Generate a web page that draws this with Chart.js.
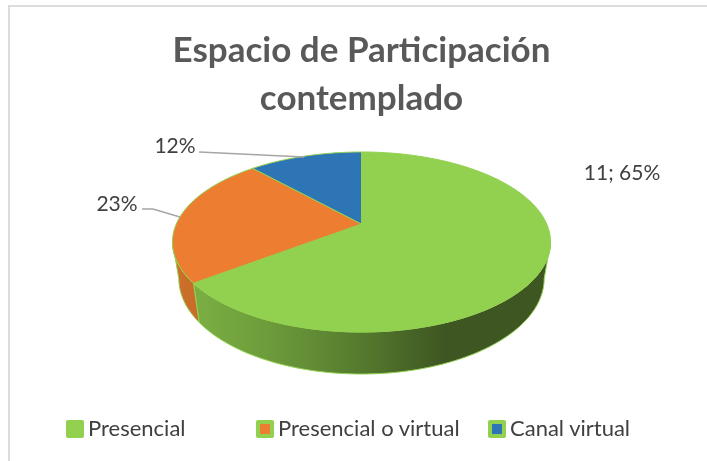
<!DOCTYPE html>
<html lang="en">
<head>
    <meta charset="UTF-8">
    <title>Espacio de Participación contemplado</title>
    <script src="https://cdn.jsdelivr.net/npm/chart.js"></script>
    <style>
        body { margin: 0; background: #fff; font-family: Lato, sans-serif; }
        #wrap { position: relative; width: 707px; height: 461px; overflow: hidden; }
        #frame { position: absolute; left: 8px; top: 5px; right: 0; bottom: 0; border-left: 2px solid #dcdcdc; border-top: 2px solid #dcdcdc; }
        canvas { position: absolute; left: 0; top: 0; }
        .item { position: absolute; top: 416px; font-size: 22px; line-height: 24px; color: #404040; white-space: nowrap; }
        .key { position: absolute; left: -22px; top: 4px; width: 18px; height: 18px; border-radius: 2px; background: #92d050; }
        .key i { position: absolute; left: 4px; top: 4px; width: 10px; height: 10px; }
    </style>
</head>
<body>
    <div id="wrap">
        <div id="frame"></div>
        <canvas id="pieChart" width="707" height="461"></canvas>
        <div id="legend"></div>
    </div>

    <script>
        const categories = ["Presencial", "Presencial o virtual", "Canal virtual"];
        const values = [11, 4, 2];
        const dataLabels = ["11; 65%", "23%", "12%"];
        const sliceColors = ["#92d050", "#ed7d31", "#2e75b6"];
        const titleLines = ["Espacio de Participación", "contemplado"];

        // where the labels and legend sit, px
        const labelSpots = [[622, 180], [117, 211], [175, 153]];
        const leaderLines = [null, [[142, 209], [153, 209], [180, 217]], [[199, 152], [304, 157]]];
        const legendLeft = [88, 278, 510];

        // perspective of the tilted disc, in pie radii
        const topDisc = { sx: 1.843, sy: 0.860, dy: 0 };
        const bottomDisc = { sx: 1.781, sy: 0.911, dy: 0.354 };
        const persp = 0.2;
        const edgeAngle = Math.acos(-persp); // where the rim turns out of sight

        function project(el, disc, a) {
            const w = 1 + persp * Math.cos(a);
            return [
                el.x + el.outerRadius * disc.sx * Math.sin(a) / w,
                el.y + el.outerRadius * (disc.dy - disc.sy * Math.cos(a) / w)
            ];
        }

        function traceRim(ctx, el, disc, from, to) {
            const steps = Math.max(2, Math.ceil(Math.abs(to - from) * 40));
            for (let i = 0; i <= steps; i++) {
                const p = project(el, disc, from + (to - from) * i / steps);
                ctx.lineTo(p[0], p[1]);
            }
        }

        const tiltedPie = {
            id: 'tiltedPie',
            beforeDatasetDraw(chart, args) {
                const ctx = chart.ctx;
                const arcs = args.meta.data;
                ctx.save();
                ctx.lineJoin = 'round';

                // side wall, front half only
                arcs.forEach((el, i) => {
                    const a0 = Math.max(el.startAngle + Math.PI / 2, edgeAngle);
                    const a1 = Math.min(el.endAngle + Math.PI / 2, 2 * Math.PI - edgeAngle);
                    if (a1 <= a0) return;
                    const left = project(el, topDisc, 2 * Math.PI - edgeAngle)[0];
                    const right = project(el, topDisc, edgeAngle)[0];
                    const g = ctx.createLinearGradient(left, 0, right, 0);
                    if (i === 0) {
                        g.addColorStop(0, '#7fb546');
                        g.addColorStop(0.25, '#6d9c3b');
                        g.addColorStop(0.5, '#557a2e');
                        g.addColorStop(0.72, '#3e5622');
                        g.addColorStop(1, '#3e5622');
                    } else {
                        g.addColorStop(0, '#cf6f2b');
                        g.addColorStop(0.1, '#c56a28');
                        g.addColorStop(1, '#c56a28');
                    }
                    ctx.beginPath();
                    traceRim(ctx, el, topDisc, a0, a1);
                    traceRim(ctx, el, bottomDisc, a1, a0);
                    ctx.closePath();
                    ctx.fillStyle = g;
                    ctx.fill();
                    ctx.strokeStyle = '#92d050';
                    ctx.lineWidth = 1;
                    ctx.stroke();
                });

                // top faces
                arcs.forEach((el, i) => {
                    const a0 = el.startAngle + Math.PI / 2;
                    const a1 = el.endAngle + Math.PI / 2;
                    ctx.beginPath();
                    ctx.moveTo(el.x, el.y);
                    traceRim(ctx, el, topDisc, a0, a1);
                    ctx.closePath();
                    ctx.fillStyle = sliceColors[i];
                    ctx.fill();
                    ctx.strokeStyle = '#92d050';
                    ctx.lineWidth = 1;
                    ctx.stroke();
                });
                ctx.restore();
                return false;
            },
            afterDatasetsDraw(chart) {
                const ctx = chart.ctx;
                ctx.save();
                ctx.strokeStyle = '#a6a6a6';
                ctx.lineWidth = 1.5;
                leaderLines.forEach(line => {
                    if (!line) return;
                    ctx.beginPath();
                    line.forEach(p => ctx.lineTo(p[0], p[1]));
                    ctx.stroke();
                });
                ctx.font = '21px Lato';
                ctx.fillStyle = '#404040';
                ctx.textAlign = 'center';
                dataLabels.forEach((text, i) => {
                    ctx.fillText(text, labelSpots[i][0], labelSpots[i][1]);
                });
                ctx.restore();
            }
        };

        new Chart(document.getElementById('pieChart'), {
            type: 'pie',
            data: {
                labels: categories,
                datasets: [{ data: values, backgroundColor: sliceColors, borderColor: '#92d050', borderWidth: 1 }]
            },
            options: {
                responsive: false,
                animation: false,
                layout: { padding: { left: 16, bottom: 136 } },
                plugins: {
                    legend: { display: false },
                    tooltip: { enabled: false },
                    title: {
                        display: true,
                        text: titleLines,
                        color: '#595959',
                        font: { family: 'Lato', size: 35, weight: 'bold', lineHeight: 48 / 35 },
                        padding: { top: 27, bottom: 0 }
                    }
                }
            },
            plugins: [tiltedPie]
        });

        // legend sits unevenly spaced in the original, so build it by hand
        const legend = document.getElementById('legend');
        categories.forEach((name, i) => {
            const item = document.createElement('div');
            item.className = 'item';
            item.style.left = legendLeft[i] + 'px';
            item.textContent = name;
            const key = document.createElement('span');
            key.className = 'key';
            if (i > 0) {
                const inner = document.createElement('i');
                inner.style.background = sliceColors[i];
                key.appendChild(inner);
            }
            item.appendChild(key);
            legend.appendChild(item);
        });
    </script>
</body>
</html>
